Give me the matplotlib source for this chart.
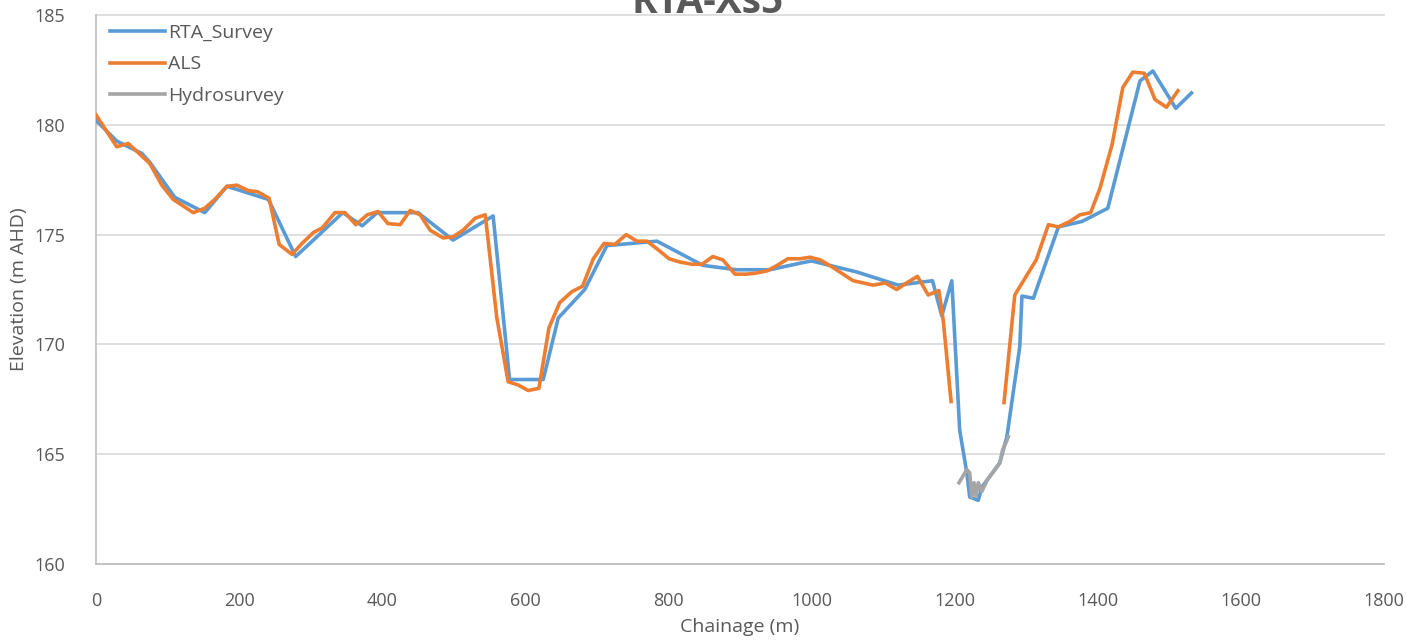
import matplotlib
matplotlib.use("Agg")
import matplotlib.pyplot as plt

# RTA_Survey
rta_x = [0, 29, 45, 64, 75, 110, 152, 183, 241, 279, 345, 372, 393, 450, 499, 555,
         578, 625, 646, 683, 714, 784, 848, 895, 942, 984, 1000, 1063, 1121, 1169,
         1182, 1196, 1207, 1217, 1221, 1233, 1238, 1263, 1273, 1291, 1294, 1310,
         1345, 1378, 1414, 1459, 1477, 1509, 1531]
rta_y = [180.2, 179.26, 179.0, 178.7, 178.3, 176.7, 176.0, 177.2, 176.6, 174.0, 176.0,
         175.4, 176.0, 176.0, 174.75, 175.85, 168.4, 168.4, 171.2, 172.5, 174.5, 174.7,
         173.6, 173.4, 173.4, 173.7, 173.8, 173.3, 172.7, 172.9, 171.3, 172.9, 166.1,
         164.15, 163.05, 162.9, 163.5, 164.6, 165.8, 169.9, 172.2, 172.1, 175.35,
         175.6, 176.2, 182.0, 182.45, 180.75, 181.45]

# ALS (gap across the channel)
als_x = [0, 29, 45, 75, 92, 108, 136, 152, 166, 183, 197, 213, 226, 242, 256, 274, 288,
         304, 316, 334, 348, 363, 379, 394, 408, 425, 439, 453, 467, 485, 499, 513, 530,
         544, 560, 576, 590, 604, 619, 633, 648, 665, 680, 695, 710, 725, 741, 756, 770,
         786, 801, 816, 833, 847, 862, 876, 893, 909, 923, 938, 952, 967, 984, 998, 1012,
         1030, 1058, 1086, 1103, 1119, 1133, 1148, 1163, 1178, 1184, 1195,
         None,
         1269, 1284, 1314, 1331, 1345, 1361, 1375, 1390, 1403, 1420, 1435, 1449, 1465,
         1480, 1496, 1512]
als_y = [180.45, 179.0, 179.15, 178.25, 177.25, 176.6, 176.0, 176.2, 176.6, 177.2, 177.25,
         177.0, 176.95, 176.65, 174.55, 174.1, 174.6, 175.1, 175.3, 176.0, 176.0, 175.45,
         175.9, 176.05, 175.5, 175.45, 176.1, 175.9, 175.2, 174.85, 174.9, 175.2, 175.75,
         175.9, 171.25, 168.3, 168.15, 167.9, 168.0, 170.75, 171.9, 172.4, 172.65, 173.9,
         174.6, 174.55, 175.0, 174.7, 174.7, 174.3, 173.9, 173.75, 173.65, 173.65, 174.0,
         173.85, 173.2, 173.2, 173.25, 173.35, 173.6, 173.9, 173.9, 173.97, 173.85, 173.5,
         172.9, 172.7, 172.8, 172.5, 172.8, 173.1, 172.25, 172.45, 171.1, 167.4,
         None,
         167.35, 172.25, 173.85, 175.45, 175.35, 175.6, 175.9, 176.0, 177.1, 179.1, 181.7,
         182.4, 182.35, 181.15, 180.8, 181.55]

# Hydrosurvey
hyd_x = [1206, 1217, 1221, 1224, 1227, 1230, 1233, 1238, 1245, 1253, 1263, 1267, 1272, 1275]
hyd_y = [163.7, 164.3, 164.15, 163.05, 163.7, 163.1, 163.7, 163.3, 163.8, 164.15, 164.6,
         165.2, 165.55, 165.8]

x_ticks = [0, 200, 400, 600, 800, 1000, 1200, 1400, 1600, 1800]
y_ticks = [160, 165, 170, 175, 180, 185]

plt.rcParams['font.family'] = ['Open Sans', 'DejaVu Sans']

fig = plt.figure(figsize=(14.06, 6.4), dpi=100)
ax = fig.add_axes([96/1406, 1-564/640, (1384-96)/1406, (564-15)/640])

def nan(v):
    return float('nan') if v is None else v

ax.plot(rta_x, rta_y, color='#5B9BD5', lw=2.6, label='RTA_Survey', solid_joinstyle='round', zorder=3)
ax.plot([nan(v) for v in als_x], [nan(v) for v in als_y], color='#ED7D31', lw=2.6,
        label='ALS', solid_joinstyle='round', zorder=4)
ax.plot(hyd_x, hyd_y, color='#A5A5A5', lw=2.6, label='Hydrosurvey', solid_joinstyle='round', zorder=5)

ax.set_xlim(0, 1800)
ax.set_ylim(160, 185)
ax.set_xticks(x_ticks)
ax.set_yticks(y_ticks)
ax.grid(axis='y', color='#D9D9D9', lw=1.2)
ax.set_axisbelow(True)
for s in ['top', 'right']:
    ax.spines[s].set_visible(False)
for s in ['left', 'bottom']:
    ax.spines[s].set_color('#BFBFBF')
    ax.spines[s].set_linewidth(1.2)
ax.tick_params(length=0, labelsize=13, colors='#595959')
ax.tick_params(axis='y', pad=22)
ax.tick_params(axis='x', pad=20)
ax.set_xlabel('Chainage (m)', fontsize=14, color='#595959', labelpad=6)
ax.set_ylabel('Elevation (m AHD)', fontsize=14, color='#595959', labelpad=5)
for gl in ax.get_ygridlines():
    gl.set_clip_on(False)

leg = ax.legend(loc='upper left', frameon=False, fontsize=14, handlelength=2.85,
                labelspacing=0.68, borderaxespad=0.3, handletextpad=0.15,
                bbox_to_anchor=(0.0, 1.008))
for t in leg.get_texts():
    t.set_color('#595959')

fig.text(0.503, 1 - 13/640, 'RTA-Xs5', ha='center', va='baseline', fontsize=28,
         fontweight='bold', color='#595959')

fig.savefig('out.png', dpi=100)
